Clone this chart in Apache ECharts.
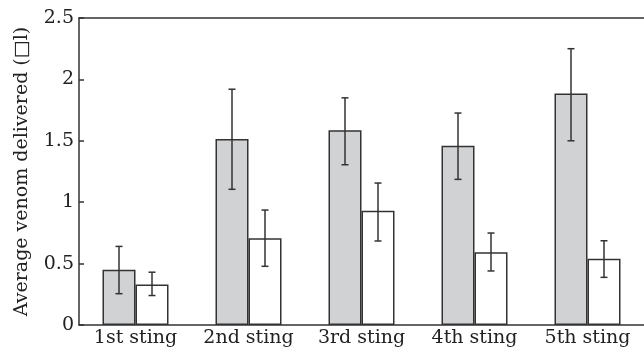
<!DOCTYPE html>
<html><head><meta charset="utf-8">
<script src="https://cdn.jsdelivr.net/npm/echarts@6/dist/echarts.min.js"></script>
<style>html,body{margin:0;padding:0;background:#fff}#c{width:644px;height:354px}</style>
</head><body><div id="c"></div>
<script>
var categories = ['1st sting', '2nd sting', '3rd sting', '4th sting', '5th sting'];
var greyMean = [0.45, 1.515, 1.585, 1.46, 1.885];
var greyLow  = [0.255, 1.105, 1.305, 1.186, 1.50];
var greyHigh = [0.64, 1.92, 1.85, 1.726, 2.25];
var whiteMean = [0.33, 0.706, 0.931, 0.592, 0.54];
var whiteLow  = [0.24, 0.478, 0.684, 0.44, 0.388];
var whiteHigh = [0.43, 0.936, 1.156, 0.749, 0.686];
var yTicks = [0, 0.5, 1, 1.5, 2, 2.5];

var BW = 33;
var FONT = 'DejaVu Serif';
var INK = '#333';

function errSeries(low, high, sign) {
  return {
    type: 'custom',
    z: 5,
    data: categories.map(function (c, i) { return [i, low[i], high[i]]; }),
    renderItem: function (params, api) {
      var lo = api.coord([api.value(0), api.value(1)]);
      var hi = api.coord([api.value(0), api.value(2)]);
      var x = lo[0] + sign * BW / 2;
      var cap = 3.5;
      var st = { stroke: INK, lineWidth: 1.5 };
      return { type: 'group', children: [
        { type: 'line', shape: { x1: x, y1: lo[1], x2: x, y2: hi[1] }, style: st },
        { type: 'line', shape: { x1: x - cap, y1: lo[1], x2: x + cap, y2: lo[1] }, style: st },
        { type: 'line', shape: { x1: x - cap, y1: hi[1], x2: x + cap, y2: hi[1] }, style: st }
      ]};
    }
  };
}

var chart = echarts.init(document.getElementById('c'));
chart.setOption({
  animation: false,
  grid: { left: 79, right: -5, top: 18, bottom: 29, containLabel: false },
  xAxis: [{
    type: 'category', data: categories,
    axisLine: { lineStyle: { color: INK, width: 1.5 } },
    axisTick: { inside: true, length: 6, interval: 0, lineStyle: { color: INK, width: 1.5 } },
    axisLabel: { fontFamily: FONT, fontSize: 19, color: '#222', margin: 4, interval: 0, hideOverlap: false }
  }, {
    type: 'category', data: categories, position: 'top',
    axisLine: { lineStyle: { color: INK, width: 1.5 } },
    axisTick: { show: false }, axisLabel: { show: false }
  }],
  yAxis: {
    type: 'value', min: 0, max: 2.5, interval: 0.5,
    name: 'Average venom delivered (\u25A1l)', nameLocation: 'middle', nameGap: 47,
    nameTextStyle: { fontFamily: FONT, fontSize: 19, color: '#222' },
    splitLine: { show: false },
    axisLine: { show: true, lineStyle: { color: INK, width: 1.5 } },
    axisTick: { show: true, inside: true, length: 5, lineStyle: { color: INK, width: 1.5 } },
    axisLabel: { fontFamily: FONT, fontSize: 19, color: '#222', margin: 5,
      formatter: function (v) { return yTicks.indexOf(v) >= 0 ? String(v) : ''; } }
  },
  series: [{
    type: 'bar', data: greyMean, barWidth: BW, barGap: '0%',
    itemStyle: { color: '#d1d2d4', borderColor: INK, borderWidth: 1.5 }
  }, {
    type: 'bar', data: whiteMean, barWidth: BW,
    itemStyle: { color: '#ffffff', borderColor: INK, borderWidth: 1.5 }
  },
  errSeries(greyLow, greyHigh, -1),
  errSeries(whiteLow, whiteHigh, 1)]
});
</script></body></html>
